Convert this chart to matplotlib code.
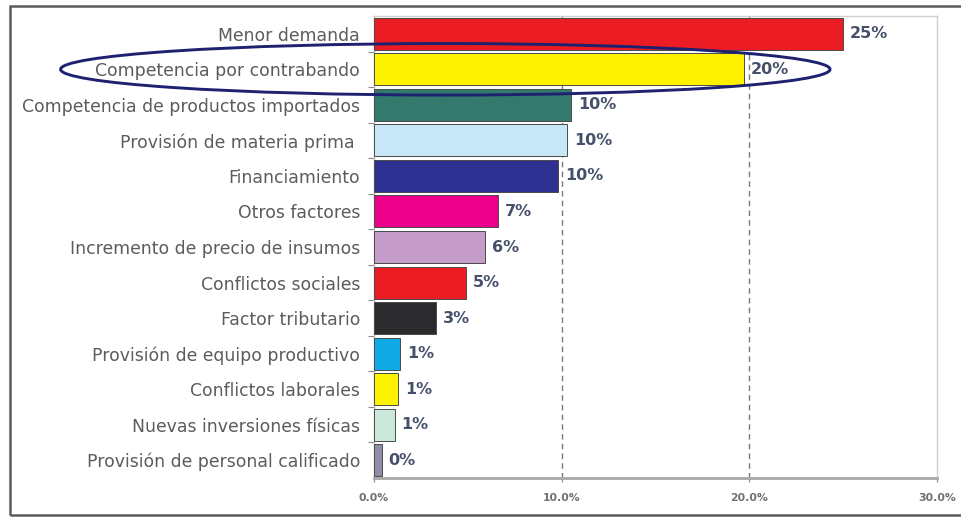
import matplotlib
matplotlib.use("Agg")
import matplotlib.pyplot as plt
from matplotlib.patches import Ellipse, Rectangle
from matplotlib.ticker import FixedLocator

# Factores que limitan el crecimiento (porcentaje de respuestas)
categorias = [
    "Menor demanda",
    "Competencia por contrabando",
    "Competencia de productos importados",
    "Provisión de materia prima ",
    "Financiamiento",
    "Otros factores",
    "Incremento de precio de insumos",
    "Conflictos sociales",
    "Factor tributario",
    "Provisión de equipo productivo",
    "Conflictos laborales",
    "Nuevas inversiones físicas",
    "Provisión de personal calificado",
]
valores = [25.0, 19.7, 10.5, 10.3, 9.8, 6.6, 5.9, 4.9, 3.3, 1.4, 1.3, 1.1, 0.4]
colores = [
    "#ec1c24", "#fff200", "#337a6c", "#c7e7f6", "#2e3192", "#ec008c",
    "#c49bc9", "#ec1c24", "#2b2b2d", "#0fa9e6", "#fff200", "#cbe8da",
    "#8e8ea8",
]
ticks_x = [0, 10, 20, 30]
etiquetas_x = ["0.0%", "10.0%", "20.0%", "30.0%"]
destacado = "Competencia por contrabando"

W, H = 961, 518
fig = plt.figure(figsize=(W / 100, H / 100), dpi=100)
fig.patch.set_facecolor("white")

# Marco exterior del gráfico
fig.patches.append(Rectangle((10 / W, 1 - 515 / H), (W + 20 - 10) / W, (515 - 6) / H,
                             transform=fig.transFigure, fill=False,
                             edgecolor="#5c5c5c", linewidth=1.8, zorder=0))

ax = fig.add_axes([374 / W, 1 - 478 / H, (937 - 374) / W, (478 - 16) / H])
pos = list(range(len(categorias)))

ax.barh(pos, valores, height=0.9, color=colores, edgecolor="#4a4a4a",
        linewidth=0.7, zorder=3)
ax.set_ylim(len(categorias) - 0.5, -0.5)
ax.set_xlim(ticks_x[0], ticks_x[-1])

# Líneas de referencia discontinuas en las marcas interiores
for t in ticks_x[1:-1]:
    ax.axvline(t, color="#7a7a7a", linestyle=(0, (4, 3)), linewidth=1.0, zorder=1)

# Etiquetas de valor al final de cada barra
for p, v in zip(pos, valores):
    ax.annotate(f"{v:.0f}%", xy=(v, p), xytext=(5, 0), textcoords="offset points",
                ha="left", va="center", fontsize=11.5, fontweight="bold",
                color="#46506a", family="DejaVu Sans", zorder=5)

# Categorías
ax.set_yticks(pos)
ax.set_yticklabels(categorias, fontsize=12.4, color="#5c5c5c", family="DejaVu Sans")
ax.tick_params(axis="y", which="major", length=0, pad=10)
ax.yaxis.set_minor_locator(FixedLocator([p + 0.5 for p in pos[:-1]]))
ax.tick_params(axis="y", which="minor", length=4, width=0.8, color="#8a8a8a")

# Eje de porcentajes
ax.set_xticks(ticks_x)
ax.set_xticklabels(etiquetas_x, fontsize=7.8, fontweight="bold", color="#707070",
                   family="DejaVu Sans")
ax.tick_params(axis="x", length=3, width=1, color="#9a9a9a", pad=8)

for lado in ["top", "right"]:
    ax.spines[lado].set_color("#cfcfcf")
    ax.spines[lado].set_linewidth(1.0)
ax.spines["left"].set_color("#bdbdbd")
ax.spines["left"].set_linewidth(1.0)
ax.spines["bottom"].set_color("#a8a8a8")
ax.spines["bottom"].set_linewidth(2.0)

# Óvalo que resalta la competencia por contrabando
i = categorias.index(destacado)
ax.add_patch(Ellipse((3.8, i), width=41.0, height=1.45, fill=False,
                     edgecolor="#1d2170", linewidth=2.1, clip_on=False, zorder=6))

fig.savefig("out.png", dpi=100, facecolor="white")
